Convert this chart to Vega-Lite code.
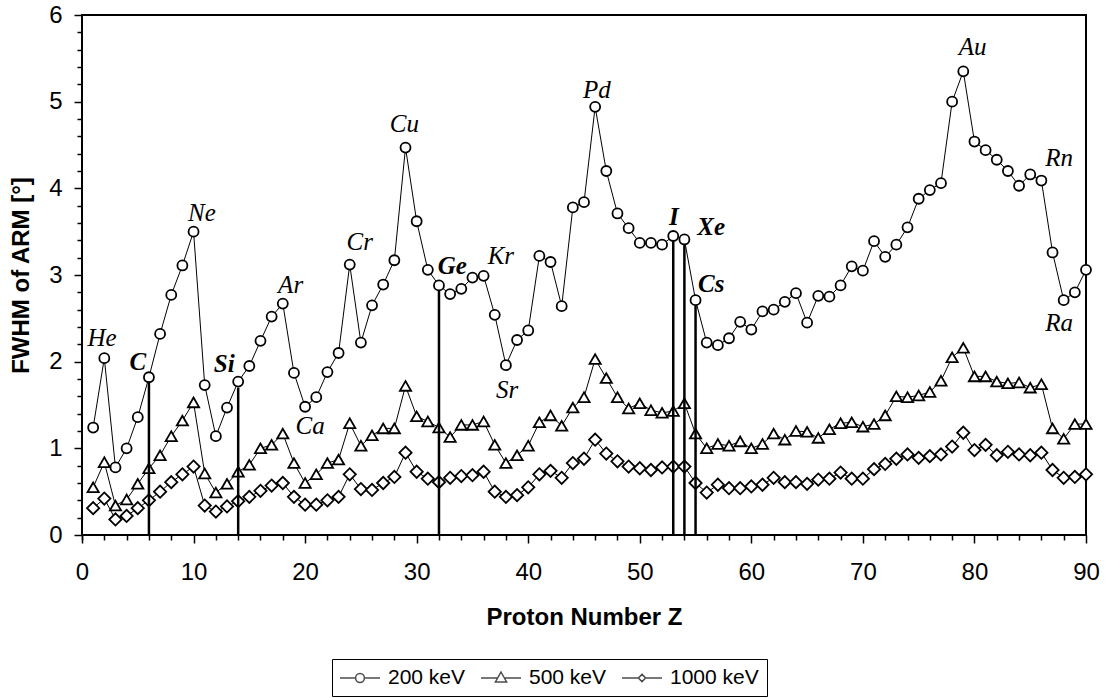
{
  "$schema": "https://vega.github.io/schema/vega-lite/v6.json",
  "width": 1004,
  "height": 520,
  "autosize": "none",
  "padding": {"left": 82, "top": 15, "right": 20, "bottom": 163},
  "background": "white",
  "config": {
    "view": {"stroke": "black", "strokeWidth": 2},
    "font": "Liberation Sans",
    "axis": {
      "labelFont": "Liberation Sans", "labelFontSize": 24, "labelColor": "black",
      "titleFont": "Liberation Sans", "titleFontSize": 24, "titleFontWeight": "bold", "titleColor": "black",
      "grid": false, "domain": false, "tickColor": "black", "tickWidth": 1.5
    }
  },
  "datasets": {
    "series": [
      {"Z":1,"200 keV":1.24,"500 keV":0.55,"1000 keV":0.31},
      {"Z":2,"200 keV":2.04,"500 keV":0.84,"1000 keV":0.42},
      {"Z":3,"200 keV":0.78,"500 keV":0.34,"1000 keV":0.18},
      {"Z":4,"200 keV":1.00,"500 keV":0.41,"1000 keV":0.22},
      {"Z":5,"200 keV":1.36,"500 keV":0.59,"1000 keV":0.31},
      {"Z":6,"200 keV":1.82,"500 keV":0.77,"1000 keV":0.40},
      {"Z":7,"200 keV":2.32,"500 keV":0.92,"1000 keV":0.50},
      {"Z":8,"200 keV":2.77,"500 keV":1.14,"1000 keV":0.61},
      {"Z":9,"200 keV":3.11,"500 keV":1.32,"1000 keV":0.70},
      {"Z":10,"200 keV":3.50,"500 keV":1.53,"1000 keV":0.79},
      {"Z":11,"200 keV":1.73,"500 keV":0.71,"1000 keV":0.34},
      {"Z":12,"200 keV":1.14,"500 keV":0.49,"1000 keV":0.27},
      {"Z":13,"200 keV":1.47,"500 keV":0.59,"1000 keV":0.33},
      {"Z":14,"200 keV":1.77,"500 keV":0.73,"1000 keV":0.39},
      {"Z":15,"200 keV":1.95,"500 keV":0.81,"1000 keV":0.44},
      {"Z":16,"200 keV":2.24,"500 keV":1.00,"1000 keV":0.51},
      {"Z":17,"200 keV":2.52,"500 keV":1.04,"1000 keV":0.57},
      {"Z":18,"200 keV":2.67,"500 keV":1.17,"1000 keV":0.60},
      {"Z":19,"200 keV":1.87,"500 keV":0.83,"1000 keV":0.44},
      {"Z":20,"200 keV":1.48,"500 keV":0.60,"1000 keV":0.35},
      {"Z":21,"200 keV":1.59,"500 keV":0.70,"1000 keV":0.35},
      {"Z":22,"200 keV":1.88,"500 keV":0.83,"1000 keV":0.40},
      {"Z":23,"200 keV":2.10,"500 keV":0.87,"1000 keV":0.44},
      {"Z":24,"200 keV":3.12,"500 keV":1.29,"1000 keV":0.70},
      {"Z":25,"200 keV":2.22,"500 keV":1.03,"1000 keV":0.53},
      {"Z":26,"200 keV":2.65,"500 keV":1.15,"1000 keV":0.52},
      {"Z":27,"200 keV":2.89,"500 keV":1.23,"1000 keV":0.60},
      {"Z":28,"200 keV":3.17,"500 keV":1.23,"1000 keV":0.67},
      {"Z":29,"200 keV":4.47,"500 keV":1.72,"1000 keV":0.95},
      {"Z":30,"200 keV":3.62,"500 keV":1.37,"1000 keV":0.73},
      {"Z":31,"200 keV":3.06,"500 keV":1.31,"1000 keV":0.65},
      {"Z":32,"200 keV":2.88,"500 keV":1.24,"1000 keV":0.61},
      {"Z":33,"200 keV":2.78,"500 keV":1.13,"1000 keV":0.66},
      {"Z":34,"200 keV":2.84,"500 keV":1.27,"1000 keV":0.68},
      {"Z":35,"200 keV":2.97,"500 keV":1.27,"1000 keV":0.69},
      {"Z":36,"200 keV":2.99,"500 keV":1.31,"1000 keV":0.73},
      {"Z":37,"200 keV":2.54,"500 keV":1.04,"1000 keV":0.50},
      {"Z":38,"200 keV":1.96,"500 keV":0.83,"1000 keV":0.44},
      {"Z":39,"200 keV":2.25,"500 keV":0.92,"1000 keV":0.46},
      {"Z":40,"200 keV":2.36,"500 keV":1.03,"1000 keV":0.55},
      {"Z":41,"200 keV":3.22,"500 keV":1.30,"1000 keV":0.70},
      {"Z":42,"200 keV":3.15,"500 keV":1.38,"1000 keV":0.74},
      {"Z":43,"200 keV":2.64,"500 keV":1.26,"1000 keV":0.66},
      {"Z":44,"200 keV":3.78,"500 keV":1.47,"1000 keV":0.83},
      {"Z":45,"200 keV":3.84,"500 keV":1.59,"1000 keV":0.88},
      {"Z":46,"200 keV":4.94,"500 keV":2.03,"1000 keV":1.10},
      {"Z":47,"200 keV":4.20,"500 keV":1.81,"1000 keV":0.94},
      {"Z":48,"200 keV":3.71,"500 keV":1.59,"1000 keV":0.85},
      {"Z":49,"200 keV":3.54,"500 keV":1.46,"1000 keV":0.79},
      {"Z":50,"200 keV":3.37,"500 keV":1.52,"1000 keV":0.77},
      {"Z":51,"200 keV":3.37,"500 keV":1.44,"1000 keV":0.75},
      {"Z":52,"200 keV":3.35,"500 keV":1.41,"1000 keV":0.78},
      {"Z":53,"200 keV":3.45,"500 keV":1.43,"1000 keV":0.79},
      {"Z":54,"200 keV":3.41,"500 keV":1.52,"1000 keV":0.79},
      {"Z":55,"200 keV":2.71,"500 keV":1.17,"1000 keV":0.60},
      {"Z":56,"200 keV":2.22,"500 keV":1.00,"1000 keV":0.49},
      {"Z":57,"200 keV":2.19,"500 keV":1.05,"1000 keV":0.58},
      {"Z":58,"200 keV":2.27,"500 keV":1.03,"1000 keV":0.54},
      {"Z":59,"200 keV":2.46,"500 keV":1.08,"1000 keV":0.54},
      {"Z":60,"200 keV":2.37,"500 keV":1.00,"1000 keV":0.56},
      {"Z":61,"200 keV":2.58,"500 keV":1.05,"1000 keV":0.58},
      {"Z":62,"200 keV":2.60,"500 keV":1.17,"1000 keV":0.66},
      {"Z":63,"200 keV":2.69,"500 keV":1.10,"1000 keV":0.61},
      {"Z":64,"200 keV":2.79,"500 keV":1.20,"1000 keV":0.61},
      {"Z":65,"200 keV":2.45,"500 keV":1.19,"1000 keV":0.59},
      {"Z":66,"200 keV":2.76,"500 keV":1.12,"1000 keV":0.64},
      {"Z":67,"200 keV":2.75,"500 keV":1.22,"1000 keV":0.65},
      {"Z":68,"200 keV":2.88,"500 keV":1.29,"1000 keV":0.72},
      {"Z":69,"200 keV":3.10,"500 keV":1.30,"1000 keV":0.65},
      {"Z":70,"200 keV":3.05,"500 keV":1.25,"1000 keV":0.65},
      {"Z":71,"200 keV":3.39,"500 keV":1.28,"1000 keV":0.76},
      {"Z":72,"200 keV":3.21,"500 keV":1.38,"1000 keV":0.82},
      {"Z":73,"200 keV":3.35,"500 keV":1.60,"1000 keV":0.88},
      {"Z":74,"200 keV":3.55,"500 keV":1.59,"1000 keV":0.93},
      {"Z":75,"200 keV":3.88,"500 keV":1.61,"1000 keV":0.89},
      {"Z":76,"200 keV":3.98,"500 keV":1.65,"1000 keV":0.91},
      {"Z":77,"200 keV":4.06,"500 keV":1.78,"1000 keV":0.93},
      {"Z":78,"200 keV":5.00,"500 keV":2.05,"1000 keV":1.02},
      {"Z":79,"200 keV":5.35,"500 keV":2.16,"1000 keV":1.18},
      {"Z":80,"200 keV":4.54,"500 keV":1.83,"1000 keV":0.98},
      {"Z":81,"200 keV":4.44,"500 keV":1.83,"1000 keV":1.04},
      {"Z":82,"200 keV":4.33,"500 keV":1.77,"1000 keV":0.92},
      {"Z":83,"200 keV":4.20,"500 keV":1.75,"1000 keV":0.96},
      {"Z":84,"200 keV":4.03,"500 keV":1.76,"1000 keV":0.93},
      {"Z":85,"200 keV":4.16,"500 keV":1.70,"1000 keV":0.92},
      {"Z":86,"200 keV":4.09,"500 keV":1.74,"1000 keV":0.95},
      {"Z":87,"200 keV":3.26,"500 keV":1.23,"1000 keV":0.75},
      {"Z":88,"200 keV":2.71,"500 keV":1.11,"1000 keV":0.66},
      {"Z":89,"200 keV":2.80,"500 keV":1.28,"1000 keV":0.67},
      {"Z":90,"200 keV":3.06,"500 keV":1.28,"1000 keV":0.70}
    ],
    "rules": [
      {"Z":6,"base":0,"value":1.77},
      {"Z":14,"base":0,"value":1.70},
      {"Z":32,"base":0,"value":2.82},
      {"Z":53,"base":0,"value":3.39},
      {"Z":54,"base":0,"value":3.35},
      {"Z":55,"base":0,"value":2.65}
    ],
    "labels": [
      {"name":"He","Z":1.8,"value":2.27,"bold":false},
      {"name":"C","Z":5.0,"value":2.0,"bold":true},
      {"name":"Ne","Z":10.75,"value":3.72,"bold":false},
      {"name":"Si","Z":12.75,"value":1.97,"bold":true},
      {"name":"Ar","Z":18.7,"value":2.89,"bold":false},
      {"name":"Ca","Z":20.45,"value":1.26,"bold":false},
      {"name":"Cr","Z":24.9,"value":3.38,"bold":false},
      {"name":"Cu","Z":28.9,"value":4.74,"bold":false},
      {"name":"Ge","Z":33.2,"value":3.1,"bold":true},
      {"name":"Kr","Z":37.55,"value":3.22,"bold":false},
      {"name":"Sr","Z":38.1,"value":1.67,"bold":false},
      {"name":"Pd","Z":46.15,"value":5.13,"bold":false},
      {"name":"I","Z":53.05,"value":3.67,"bold":true},
      {"name":"Xe","Z":56.4,"value":3.55,"bold":true},
      {"name":"Cs","Z":56.4,"value":2.9,"bold":true},
      {"name":"Au","Z":79.84,"value":5.63,"bold":false},
      {"name":"Rn","Z":87.6,"value":4.35,"bold":false},
      {"name":"Ra","Z":87.6,"value":2.45,"bold":false}
    ]
  },
  "layer": [
    {
      "data": {"name": "series"},
      "transform": [{"fold": ["200 keV", "500 keV", "1000 keV"], "as": ["series", "value"]}],
      "mark": {"type": "line", "color": "black", "strokeWidth": 1},
      "encoding": {
        "x": {
          "field": "Z", "type": "quantitative",
          "scale": {"domain": [0, 90], "nice": false, "zero": false},
          "axis": {
            "orient": "bottom",
            "title": "Proton Number Z",
            "values": [0,10,20,30,40,50,60,70,80,90],
            "format": "d",
            "tickSize": 8,
            "labelPadding": 17,
            "labelFlush": false,
            "labelOverlap": false,
            "titlePadding": 21
          }
        },
        "y": {
          "field": "value", "type": "quantitative",
          "scale": {"domain": [0, 6], "nice": false, "zero": true},
          "axis": {
            "orient": "left",
            "title": "FWHM of ARM [°]",
            "values": [0,1,2,3,4,5,6],
            "format": "d",
            "tickSize": 8,
            "labelPadding": 12,
            "labelOverlap": false,
            "titlePadding": 15
          }
        },
        "detail": {"field": "series", "type": "nominal"}
      }
    },
    {
      "data": {"name": "series"},
      "transform": [{"fold": ["200 keV", "500 keV", "1000 keV"], "as": ["series", "value"]}],
      "mark": {"type": "point", "filled": true, "fill": "white", "stroke": "black", "strokeWidth": 1.8, "opacity": 1},
      "encoding": {
        "x": {
          "field": "Z", "type": "quantitative",
          "axis": {
            "orient": "bottom",
            "title": null,
            "labels": false,
            "values": [0,2,4,6,8,12,14,16,18,22,24,26,28,32,34,36,38,42,44,46,48,52,54,56,58,62,64,66,68,72,74,76,78,82,84,86,88],
            "tickSize": 5
          }
        },
        "y": {
          "field": "value", "type": "quantitative",
          "axis": {
            "orient": "left",
            "title": null,
            "labels": false,
            "values": [0.2,0.4,0.6,0.8,1.2,1.4,1.6,1.8,2.2,2.4,2.6,2.8,3.2,3.4,3.6,3.8,4.2,4.4,4.6,4.8,5.2,5.4,5.6,5.8],
            "tickSize": 5
          }
        },
        "shape": {
          "field": "series", "type": "nominal",
          "scale": {"domain": ["200 keV", "500 keV", "1000 keV"], "range": ["circle", "triangle-up", "diamond"]},
          "legend": null
        },
        "size": {
          "field": "series", "type": "nominal",
          "scale": {"domain": ["200 keV", "500 keV", "1000 keV"], "range": [100, 150, 70]},
          "legend": null
        }
      }
    },
    {
      "data": {"name": "rules"},
      "mark": {"type": "rule", "color": "black", "strokeWidth": 2.5},
      "encoding": {
        "x": {"field": "Z", "type": "quantitative", "axis": null},
        "y": {"field": "base", "type": "quantitative", "axis": null},
        "y2": {"field": "value"}
      }
    },
    {
      "data": {"name": "labels"},
      "transform": [{"filter": "!datum.bold"}],
      "mark": {"type": "text", "font": "Liberation Serif", "fontStyle": "italic", "fontSize": 25, "color": "black"},
      "encoding": {
        "x": {"field": "Z", "type": "quantitative", "axis": null},
        "y": {"field": "value", "type": "quantitative", "axis": null},
        "text": {"field": "name"}
      }
    },
    {
      "data": {"name": "labels"},
      "transform": [{"filter": "datum.bold"}],
      "mark": {"type": "text", "font": "Liberation Serif", "fontStyle": "italic", "fontWeight": "bold", "fontSize": 25, "color": "black"},
      "encoding": {
        "x": {"field": "Z", "type": "quantitative", "axis": null},
        "y": {"field": "value", "type": "quantitative", "axis": null},
        "text": {"field": "name"}
      }
    },
    {
      "data": {"name": "series"},
      "transform": [{"fold": ["200 keV", "500 keV", "1000 keV"], "as": ["series", "value"]}, {"filter": "datum.Z < 0"}],
      "mark": {"type": "point", "filled": false, "color": "black", "strokeWidth": 1.5},
      "encoding": {
        "x": {"field": "Z", "type": "quantitative", "axis": null},
        "y": {"field": "value", "type": "quantitative", "axis": null},
        "shape": {
          "field": "series", "type": "nominal",
          "scale": {
            "domain": ["200 keV", "500 keV", "1000 keV"],
            "range": [
              "M-2,0H-0.44M0.44,0H2M0.44,0A0.44,0.44 0 1,1 -0.44,0A0.44,0.44 0 1,1 0.44,0Z",
              "M-2,0H-0.34M0.34,0H2M0,-0.6L0.56,0.4L-0.56,0.4Z",
              "M-2,0H-0.36M0.36,0H2M0,-0.36L0.36,0L0,0.36L-0.36,0Z"
            ]
          },
          "legend": {
            "title": null,
            "orient": "none",
            "legendX": 250,
            "legendY": 644,
            "direction": "horizontal",
            "strokeColor": "black",
            "padding": 8,
            "labelFont": "Liberation Sans",
            "labelFontSize": 21,
            "labelColor": "black",
            "symbolSize": 400,
            "symbolStrokeWidth": 1.5,
            "symbolStrokeColor": "black",
            "symbolFillColor": "transparent",
            "symbolOffset": 9,
            "labelOffset": 17,
            "columnPadding": 12
          }
        }
      }
    }
  ],
  "resolve": {
    "scale": {"shape": "independent"},
    "legend": {"shape": "independent"},
    "axis": {"x": "independent", "y": "independent"}
  }
}
